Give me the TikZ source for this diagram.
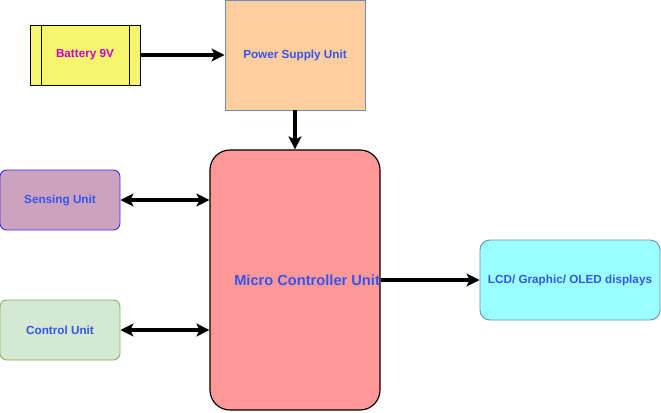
\documentclass[tikz,border=0pt]{standalone}
\usepackage{fontspec}
\setmainfont{Liberation Sans}
\usetikzlibrary{arrows.meta}
\definecolor{txtblue}{HTML}{3355EE}
\definecolor{txtmag}{HTML}{CC00CC}
\definecolor{bordblue}{HTML}{6C8EBF}
\tikzset{
  blk/.style={draw, line width=0.8pt, inner sep=0pt, font=\bfseries\fontsize{10}{12}\selectfont, text=txtblue},
  link/.style={line width=3pt, -{Stealth[length=11pt, width=11pt, inset=2.5pt]}},
  biglink/.style={line width=3pt, {Stealth[length=11pt, width=11pt, inset=2.5pt]}-{Stealth[length=11pt, width=11pt, inset=2.5pt]}}
}
\begin{document}
\begin{tikzpicture}[x=0.03cm, y=-0.03cm]
  \useasboundingbox (0,0) rectangle (661,412);

  \node[blk, fill={rgb,255:red,245;green,245;blue,110}, minimum width=3.3cm, minimum height=1.8cm, text=txtmag] (bat) at (85,55) {Battery 9V};
  \draw[line width=0.8pt] (41,25) -- (41,85) (129,25) -- (129,85);
  \node[blk, draw=bordblue, fill={rgb,255:red,255;green,206;blue,159}, minimum width=4.2cm, minimum height=3.3cm] (psu) at (295,55) {Power Supply Unit};
  \node[blk, rounded corners=0.6cm, fill={rgb,255:red,255;green,153;blue,153}, line width=1pt, minimum width=5.1cm, minimum height=7.8cm,
        font=\bfseries\fontsize{12.5}{14}\selectfont] (mcu) at (295,280) {};
  \node[font=\bfseries\fontsize{12.5}{14}\selectfont, text=txtblue, anchor=east, inner sep=0pt] (mcutext) at ([xshift=-0.4pt]mcu.east) {Micro Controller Unit};
  \node[blk, draw=blue!80, rounded corners=0.2cm, fill={rgb,255:red,205;green,162;blue,190}, minimum width=3.6cm, minimum height=1.8cm] (sense) at (60,200) {Sensing Unit};
  \node[blk, draw={rgb,255:red,130;green,179;blue,102}, rounded corners=0.2cm, fill={rgb,255:red,213;green,232;blue,212}, minimum width=3.6cm, minimum height=1.8cm] (ctrl) at (60,330) {Control Unit};
  \node[blk, draw=bordblue, rounded corners=0.3cm, fill={rgb,255:red,153;green,255;blue,255}, minimum width=5.4cm, minimum height=2.4cm] (lcd) at (570,280) {LCD/ Graphic/ OLED displays};

  \draw[link] (bat) -- (psu);
  \draw[link] (psu) -- (psu |- mcu.north);
  \draw[biglink] (sense) -- (sense -| mcu.west);
  \draw[biglink] (ctrl) -- (ctrl -| mcu.west);
  \draw[link] (mcu.east) -- (lcd);
\end{tikzpicture}
\end{document}
